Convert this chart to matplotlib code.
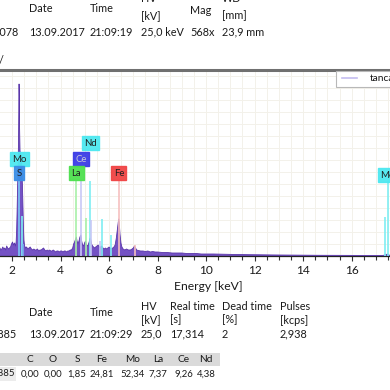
import matplotlib
matplotlib.use("Agg")
import matplotlib.pyplot as plt
from matplotlib.patches import Rectangle
from matplotlib.lines import Line2D

W = H = 390
FONT = "Lato"
plt.rcParams['font.family'] = [FONT, 'DejaVu Sans']

# ---------------- data ----------------
energy_keV = [1.45, 1.50, 1.54, 1.58, 1.62, 1.66, 1.70, 1.74, 1.78, 1.82, 1.86, 1.90, 1.94, 1.98,
              2.02, 2.06, 2.10, 2.14,
              2.17, 2.19, 2.21, 2.23, 2.25, 2.27, 2.28, 2.29, 2.30, 2.31, 2.33, 2.36, 2.39, 2.41,
              2.43, 2.45, 2.47, 2.49, 2.52,
              2.56, 2.60, 2.65, 2.70, 2.75, 2.80, 2.85, 2.90, 2.95, 3.00, 3.05, 3.10, 3.15, 3.20,
              3.25, 3.30, 3.35, 3.40, 3.45, 3.50, 3.55, 3.60, 3.65, 3.70, 3.75, 3.80, 3.85, 3.90,
              3.95, 4.00, 4.05, 4.10, 4.15, 4.20, 4.25, 4.30, 4.35, 4.40, 4.45, 4.50,
              4.54, 4.58, 4.62, 4.65, 4.68, 4.72, 4.76, 4.80, 4.84, 4.87, 4.91, 4.95, 4.99, 5.03,
              5.06, 5.10, 5.14, 5.18, 5.22, 5.25, 5.28, 5.32, 5.36, 5.40, 5.45, 5.50, 5.55, 5.60,
              5.65, 5.70, 5.75, 5.80, 5.85, 5.90, 5.95, 6.00, 6.05, 6.10, 6.15, 6.20, 6.25, 6.30,
              6.34, 6.38, 6.40, 6.42, 6.45, 6.49, 6.53, 6.58, 6.65, 6.72, 6.80, 6.88, 6.95, 7.00,
              7.05, 7.09, 7.14, 7.20, 7.30, 7.40, 7.50, 7.60, 7.70, 7.80, 7.90, 8.00, 8.20, 8.40,
              8.60, 8.80, 9.00, 9.20, 9.40, 9.60, 9.80, 10.0, 10.3, 10.6, 10.9, 11.2, 11.5, 11.8,
              12.1, 12.4, 12.7, 13.0, 13.4, 13.8, 14.2, 14.6, 15.0, 15.5, 16.0, 16.5, 17.0, 17.3,
              17.4, 17.48, 17.55, 17.7]
counts = [7, 8, 6, 7, 9, 7, 8, 6, 10, 8, 7, 8, 9, 12,
          14, 11, 13, 10,
          14, 25, 45, 70, 85, 120, 150, 172, 160, 130, 105, 100, 98, 85,
          70, 50, 30, 16, 10,
          8, 9, 7, 8, 9, 7, 6, 7, 6, 6, 7, 5, 6, 6,
          7, 8, 6, 5, 6, 5, 6, 5, 5, 6, 5, 4, 5, 5,
          4, 5, 5, 4, 5, 5, 4, 5, 5, 6, 6, 8,
          12, 14, 17, 19, 15, 12, 15, 19, 21, 15, 11, 10, 13, 15,
          12, 10, 11, 14, 18, 16, 12, 10, 9, 8, 9, 10, 11, 9,
          9, 10, 8, 7, 8, 7, 8, 9, 8, 7, 8, 9, 11, 18,
          26, 34, 37, 33, 22, 13, 9, 7, 6, 7, 6, 6, 7, 8,
          10, 8, 6, 5.5, 5, 5, 4.5, 5, 4, 4.5, 4, 4, 3.5, 3.5,
          3, 3, 3, 2.5, 2.5, 2.5, 2, 2, 2, 1.8, 1.6, 1.5, 1.4, 1.2,
          1.2, 1.1, 1, 1, 0.9, 0.8, 0.8, 0.7, 0.7, 0.6, 0.6, 0.5, 0.5, 0.6,
          1.2, 2, 0.8, 0.5]

line_energy = [2.293, 2.307, 2.395, 2.464, 4.651, 4.840, 5.042, 5.230, 5.262, 5.613, 5.722,
               6.090, 6.404, 7.058, 17.374, 17.479]
line_height = [75, 75, 40, 12, 75, 75, 38, 75, 36, 15, 37, 21, 75, 11, 39, 75]
line_color = ['#7eeef2', '#7aaef0', '#7eeef2', '#7aaef0', '#a8f0a8', '#c8c8f6', '#a8f0a8',
              '#7eeef2', '#c8c8f6', '#c8c8f6', '#7eeef2', '#7eeef2', '#f6c0c0', '#f6c0c0',
              '#7eeef2', '#7eeef2']

label_text = ['Mo', 'S', 'Nd', 'Ce', 'La', 'Fe', 'Mo']
label_energy = [2.293, 2.307, 5.230, 4.840, 4.651, 6.404, 17.479]
label_level = [97, 83, 113, 97, 83, 83, 81]
label_face = ['#4ee8f0', '#3a8ee6', '#4ee8f0', '#3c3ce6', '#4ee04e', '#f04444', '#4ee8f0']
label_tc = ['#202020', '#202020', '#202020', '#c8c8d8', '#202020', '#202020', '#202020']

xticks = [2, 4, 6, 8, 10, 12, 14, 16]

hdr1_cols = ['Date', 'Time', 'HV', 'Mag', 'WD']
hdr1_units = ['[kV]', '[mm]']
hdr1_vals = ['4078', '13.09.2017', '21:09:19', '25,0 keV', '568x', '23,9 mm']

hdr2_cols = ['HV', 'Real time', 'Dead time', 'Pulses']
hdr2_cols_b = ['Date', 'Time']
hdr2_units = ['[kV]', '[s]', '[%]', '[kcps]']
hdr2_vals = ['5885', '13.09.2017', '21:09:29', '25,0', '17,314', '2', '2,938']

elements = ['C', 'O', 'S', 'Fe', 'Mo', 'La', 'Ce', 'Nd']
wt_percent = ['0,00', '0,00', '1,85', '24,81', '52,34', '7,37', '9,26', '4,38']

# ---------------- figure ----------------
fig = plt.figure(figsize=(W / 100, H / 100), dpi=100)
fig.patch.set_facecolor('white')
FS = 7.8
FS_TAB = 6.9


def fx(x):
    return x / W


def fy(y):
    return 1 - y / H


def ftext(x, y, s, size=FS, ha='left', va='center', **kw):
    fig.text(fx(x), fy(y), s, ha=ha, va=va, fontsize=size, color='#1a1a1a', **kw)


ax_left, ax_right = 0, 390
ax_top, ax_bot = 70, 256
ax = fig.add_axes([fx(ax_left), fy(ax_bot), (ax_right - ax_left) / W, (ax_bot - ax_top) / H])
ax.set_facecolor('white')
px_per_kev = 24.26
x0 = -36.5

# grid / ticks
ax.set_xticks([v * 0.5 for v in range(3, 36)], minor=True)
ax.set_xticks(xticks)
ax.set_yticks(range(0, 190, 12))
ax.set_xlim((ax_left - x0) / px_per_kev, (ax_right - x0) / px_per_kev)
ax.set_ylim(0, ax_bot - ax_top)
ax.grid(True, which='both', axis='x', color='#f3f1ea', lw=0.7)
ax.grid(True, which='major', axis='y', color='#f3f1ea', lw=0.7)
ax.set_axisbelow(True)

# spectrum
ax.fill_between(energy_keV, counts, 0, color='#7452c4', lw=0, zorder=2)
ax.plot(energy_keV, counts, color='#5a36aa', lw=0.6, zorder=3)

# marker lines
ax.vlines(line_energy, 0, line_height, colors=line_color, lw=1.4, alpha=0.85, zorder=4)

# labels
for t, e, lv, fc, tc in zip(label_text, label_energy, label_level, label_face, label_tc):
    ax.text(e, lv, t, ha='center', va='center', fontsize=6.9, color=tc, zorder=6,
            bbox=dict(boxstyle='square,pad=0.25', fc=fc, ec=fc, alpha=0.95))

for s in ['left', 'right']:
    ax.spines[s].set_visible(False)
ax.spines['top'].set_color('#707070')
ax.spines['top'].set_linewidth(2.2)
ax.spines['bottom'].set_color('#222222')
ax.spines['bottom'].set_linewidth(0.9)
ax.tick_params(axis='x', which='both', direction='out', length=3.5, width=0.8,
               color='#333333', labelsize=8.6, pad=3, labelcolor='#1a1a1a')
ax.tick_params(axis='x', which='minor', length=3)
ax.tick_params(axis='y', left=False, labelleft=False)
ax.set_xticklabels([str(v) for v in xticks])

ftext(208, 286, 'Energy [keV]', size=8.7, ha='center')

# legend (partially off-canvas)
fig.patches.append(Rectangle((fx(336), fy(87)), 0.3, (87 - 71) / H, transform=fig.transFigure,
                             fc='white', ec='#b8b8b8', lw=0.8, zorder=5))
fig.lines.append(Line2D([fx(342), fx(357)], [fy(78), fy(78)], transform=fig.transFigure,
                        color='#c4bcf0', lw=1.2, zorder=6))
ftext(370, 78.5, 'tancament', size=7.4, zorder=7)

ftext(-1, 60, '/', size=FS)

# top header
ftext(29, 9, hdr1_cols[0])
ftext(90, 9, hdr1_cols[1])
ftext(141, -1, hdr1_cols[2])
ftext(190, 11, hdr1_cols[3])
ftext(222, -1, hdr1_cols[4])
ftext(141, 16, hdr1_units[0])
ftext(222, 16, hdr1_units[1])
ftext(19, 32, hdr1_vals[0], ha='right')
for x, s in zip([29, 90, 141, 190, 222], hdr1_vals[1:]):
    ftext(x, 32, s)

# bottom header
for x, s in zip([141, 170, 222, 280], hdr2_cols):
    ftext(x, 306, s)
for x, s in zip([29, 90], hdr2_cols_b):
    ftext(x, 313, s)
for x, s in zip([141, 170, 222, 280], hdr2_units):
    ftext(x, 320, s)
ftext(17, 334, hdr2_vals[0], ha='right')
for x, s in zip([29, 90, 141, 170, 222, 280], hdr2_vals[1:]):
    ftext(x, 334, s)

# results table
fig.patches.append(Rectangle((fx(0), fy(366)), fx(220), 13 / H, transform=fig.transFigure,
                             fc='#dadada', ec='none', zorder=0))
fig.patches.append(Rectangle((fx(0), fy(381)), fx(16), 14 / H, transform=fig.transFigure,
                             fc='#ececec', ec='none', zorder=0))
col_x = [30, 53, 77, 102, 133, 158, 184, 206]
for x, s in zip(col_x, elements):
    ftext(x, 360, s, size=FS_TAB + 0.4, ha='center')
ftext(15, 374, hdr2_vals[0], size=FS_TAB, ha='right')
for x, s in zip(col_x, wt_percent):
    ftext(x, 374, s, size=FS_TAB, ha='center')

fig.savefig('out.png', dpi=100)
